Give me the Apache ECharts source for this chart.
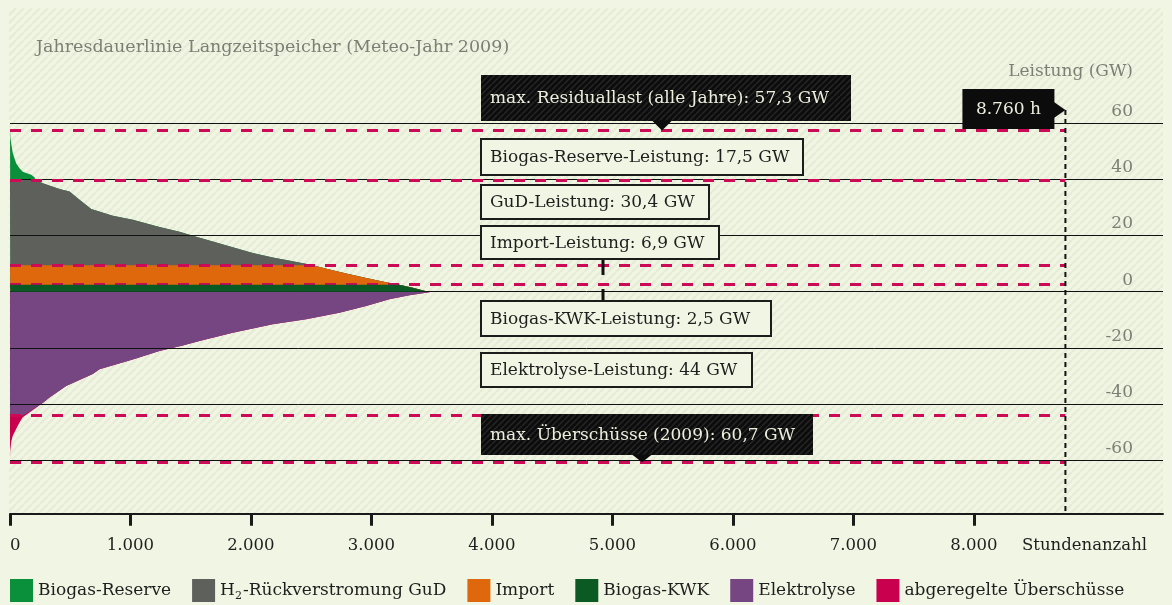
<!DOCTYPE html>
<html>
<head>
<meta charset="utf-8">
<script src="https://cdn.jsdelivr.net/npm/echarts@6/dist/echarts.min.js"></script>
<style>
  html, body { margin: 0; padding: 0; background: #f1f5e3; }
  #chart { width: 1172px; height: 605px; }
</style>
</head>
<body>
<div id="chart"></div>
<script>
// Jahresdauerlinie: positive Residuallast (Deckung) und negative Residuallast (Überschüsse), GW über Stunden
const residualHours = [0, 4, 12, 23, 37, 51, 79, 106, 134, 176, 203, 212, 272, 411, 494, 577, 674, 853, 1019, 1241, 1407, 1517, 1683, 1849, 2015, 2181, 2347, 2485, 2513, 2651, 2790, 2956, 3122, 3232, 3343, 3454, 3470];
const residualLoad  = [57.3, 54.6, 52.2, 49.3, 47.5, 45.7, 43.9, 42.7, 42.2, 41.6, 40.7, 39.8, 38.6, 36.5, 35.6, 32.7, 29.4, 27.0, 25.6, 23.0, 21.3, 19.9, 17.9, 15.8, 13.8, 12.2, 10.8, 9.7, 9.4, 7.9, 6.5, 4.9, 3.4, 2.5, 1.4, 0.2, 0];
const surplusHours  = [0, 1, 10, 23, 51, 79, 106, 272, 328, 466, 687, 743, 1019, 1241, 1434, 1573, 1849, 2181, 2458, 2734, 2956, 3149, 3315, 3454, 3500];
const surplusLoad   = [-60.7, -57.0, -53.5, -51.2, -48.8, -46.5, -44.7, -39.6, -37.6, -33.5, -29.3, -27.6, -24.1, -21.1, -19.1, -17.5, -14.6, -11.6, -9.8, -7.5, -5.1, -2.7, -1.3, -0.4, 0];

// Leistungen der Erzeuger / Verbraucher (GW)
const kwkCapacity = 2.5;
const importCapacity = 6.9;
const gudCapacity = 30.4;
const reserveCapacity = 17.5;
const electrolysisCapacity = 44;
const maxSurplus = 60.7;
const hoursPerYear = 8760;

const seriesNames = ['Biogas-Reserve', 'H2-Rückverstromung GuD', 'Import', 'Biogas-KWK', 'Elektrolyse', 'abgeregelte Überschüsse'];
const seriesColors = ['#0a8f3b', '#5e605b', '#df670c', '#0b5a24', '#764683', '#c9004e'];
const yTicks = [60, 40, 20, 0, -20, -40, -60];
const xTicks = [0, 1000, 2000, 3000, 4000, 5000, 6000, 7000, 8000];

// Kumulierte Obergrenzen der Bänder
const kwkTop = kwkCapacity;
const importTop = kwkTop + importCapacity;
const gudTop = importTop + gudCapacity;
const reserveTop = gudTop + reserveCapacity;

const FONT = '"DejaVu Serif", "Liberation Serif", serif';

function stripes(bg, fg, size, width) {
  const c = document.createElement('canvas');
  c.width = c.height = size;
  const g = c.getContext('2d');
  g.fillStyle = bg;
  g.fillRect(0, 0, size, size);
  g.strokeStyle = fg;
  g.lineWidth = width;
  g.beginPath();
  for (let k = -1; k <= 1; k++) {
    g.moveTo(k * size, size);
    g.lineTo(k * size + size, 0);
  }
  g.stroke();
  return c;
}
const lightHatch = stripes('#f1f5e3', '#e6ecd5', 8, 2.5);
const darkHatch = stripes('#0c0c0c', '#262626', 6, 1.5);

function capped(hours, values, limit) {
  return hours.map((h, i) => [h, Math.min(values[i], limit)]);
}
function floored(hours, values, limit) {
  return hours.map((h, i) => [h, Math.max(values[i], limit)]);
}

function area(name, color, data, z) {
  return {
    name, type: 'line', data, z,
    showSymbol: false, symbol: 'none', silent: true,
    lineStyle: { width: 0, color },
    itemStyle: { color },
    areaStyle: { color, opacity: 1, origin: 0 }
  };
}

const pink = '#cc0a55';
const dashedLevels = [reserveTop, gudTop, importTop, kwkTop, -electrolysisCapacity, -maxSurplus];

const chart = echarts.init(document.getElementById('chart'), null, { renderer: 'canvas' });

const option = {
  animation: false,
  backgroundColor: '#f1f5e3',
  textStyle: { fontFamily: FONT },
  title: {
    text: 'Jahresdauerlinie Langzeitspeicher (Meteo-Jahr 2009)',
    left: 36, top: 38, padding: 0,
    textStyle: { fontFamily: FONT, fontSize: 17.5, fontWeight: 'normal', color: '#7b8075' }
  },
  grid: { left: 10, right: 9, top: 66.8, bottom: 91.2, containLabel: false, outerBoundsMode: 'none' },
  xAxis: {
    type: 'value', min: 0, max: 9570, interval: 1000,
    name: 'Stundenanzahl', nameLocation: 'end', nameGap: -141,
    nameTextStyle: { fontFamily: FONT, fontSize: 16.5, color: '#1e1e1e', align: 'left', verticalAlign: 'top', padding: [23, 0, 0, 0] },
    axisLine: { show: true, onZero: false, lineStyle: { color: '#1a1a1a', width: 2 } },
    axisTick: { show: true, customValues: xTicks, length: 12, lineStyle: { color: '#1a1a1a', width: 3 } },
    axisLabel: {
      customValues: xTicks, margin: 23, alignMinLabel: 'left',
      fontFamily: FONT, fontSize: 16.5, color: '#1e1e1e',
      formatter: v => String(v).replace(/\B(?=(\d{3})+(?!\d))/g, '.')
    },
    splitLine: { show: false }
  },
  yAxis: {
    type: 'value', min: -79, max: 80, position: 'right',
    axisLine: { show: false, onZero: false },
    axisTick: { show: false },
    splitLine: { show: false },
    axisLabel: {
      customValues: yTicks, inside: true, margin: 30,
      fontFamily: FONT, fontSize: 17, color: '#7b8075',
      verticalAlign: 'bottom', padding: [0, 0, 3, 0]
    }
  },
  legend: {
    left: 10, top: 579, padding: 0, itemWidth: 23, itemHeight: 23, itemGap: 21, icon: 'rect',
    selectedMode: false,
    data: seriesNames,
    textStyle: {
      fontFamily: FONT, fontSize: 17, color: '#1e1e1e',
      rich: { sub: { fontFamily: FONT, fontSize: 11, color: '#1e1e1e', padding: [12, 1, 0, 0] } }
    },
    formatter: n => n === 'H2-Rückverstromung GuD' ? 'H{sub|2}-Rückverstromung GuD' : n
  },
  series: [
    {
      name: 'Raster', type: 'line', data: [], z: 1, silent: true,
      markLine: {
        silent: true, symbol: ['none', 'none'], label: { show: false }, animation: false,
        data: yTicks.map(v => ({ yAxis: v, lineStyle: { color: '#111', width: 1, type: 'solid' } }))
          .concat(dashedLevels.map(v => [
            { coord: [0, v], lineStyle: { color: pink, width: 3, type: [11, 10] } },
            { coord: [hoursPerYear, v] }
          ]))
      }
    },
    area(seriesNames[0], seriesColors[0], capped(residualHours, residualLoad, reserveTop), 2),
    area(seriesNames[1], seriesColors[1], capped(residualHours, residualLoad, gudTop), 3),
    area(seriesNames[2], seriesColors[2], capped(residualHours, residualLoad, importTop), 4),
    area(seriesNames[3], seriesColors[3], capped(residualHours, residualLoad, kwkTop), 5),
    area(seriesNames[5], seriesColors[5], floored(surplusHours, surplusLoad, -maxSurplus), 2),
    area(seriesNames[4], seriesColors[4], floored(surplusHours, surplusLoad, -electrolysisCapacity), 3)
  ]
};
chart.setOption(option);

// Annotationen: Kästen, Pfeile und Jahresende-Linie
const px = (x, y) => chart.convertToPixel({ gridIndex: 0 }, [x, y]);
const gridLeft = px(0, 0)[0];
const axisBottom = px(0, -79)[1];
const yearX = px(hoursPerYear, 0)[0];
const residualY = px(0, reserveTop)[1];
const surplusY = px(0, -maxSurplus)[1];
const hatchRight = px(9570, 0)[0];

const boxLeft = 481;
function lightBox(text, top, width, height) {
  return {
    type: 'group', z: 50, children: [
      { type: 'rect', shape: { x: boxLeft, y: top, width, height }, style: { fill: '#f1f5e3', stroke: '#1c1c1c', lineWidth: 2 }, z: 50 },
      { type: 'text', style: { x: boxLeft + 9, y: top + height / 2 + 1, text, fontFamily: FONT, fontSize: 17, fill: '#1e1e1e', verticalAlign: 'middle' }, z: 51 }
    ]
  };
}
function darkBox(text, top, width, height, tipX, tipY) {
  return {
    type: 'group', z: 50, children: [
      { type: 'rect', shape: { x: boxLeft, y: top, width, height }, style: { fill: { image: darkHatch, repeat: 'repeat' } }, z: 50 },
      { type: 'polygon', shape: { points: [[tipX - 10, top + height - 0.5], [tipX + 10, top + height - 0.5], [tipX, tipY]] }, style: { fill: '#0c0c0c' }, z: 50 },
      { type: 'text', style: { x: boxLeft + 9, y: top + height / 2 + 1, text, fontFamily: FONT, fontSize: 17, fill: '#ecefdc', verticalAlign: 'middle' }, z: 51 }
    ]
  };
}

const yearBoxTop = 89, yearBoxH = 40, yearBoxW = 92;
const yearBoxRight = yearX - 11;
const yearTipY = yearBoxTop + 21;

chart.setOption({
  graphic: [
    { type: 'rect', silent: true, z: -100, shape: { x: gridLeft - 1, y: 8, width: hatchRight - gridLeft + 1, height: axisBottom - 8 }, style: { fill: { image: lightHatch, repeat: 'repeat' } } },
    { type: 'text', z: 10, style: { x: 1133, y: 72, text: 'Leistung (GW)', fontFamily: FONT, fontSize: 17, fill: '#7b8075', align: 'right', verticalAlign: 'middle' } },
    darkBox('max. Residuallast (alle Jahre): 57,3 GW', 75, 370, 46, 662, residualY),
    lightBox('Biogas-Reserve-Leistung: 17,5 GW', 139, 322, 36),
    lightBox('GuD-Leistung: 30,4 GW', 185, 228, 34),
    lightBox('Import-Leistung: 6,9 GW', 226, 238, 33),
    { type: 'line', z: 49, shape: { x1: 603, y1: 259, x2: 603, y2: 275 }, style: { stroke: '#111', lineWidth: 3 } },
    { type: 'line', z: 49, shape: { x1: 603, y1: 289, x2: 603, y2: 301 }, style: { stroke: '#111', lineWidth: 3 } },
    lightBox('Biogas-KWK-Leistung: 2,5 GW', 301, 290, 35),
    lightBox('Elektrolyse-Leistung: 44 GW', 353, 271, 34),
    darkBox('max. Überschüsse (2009): 60,7 GW', 414, 332, 41, 642, surplusY),
    { type: 'line', z: 40, shape: { x1: yearX, y1: yearTipY, x2: yearX, y2: axisBottom }, style: { stroke: '#111', lineWidth: 2, lineDash: [5, 4] } },
    {
      type: 'group', z: 50, children: [
        { type: 'rect', shape: { x: yearBoxRight - yearBoxW, y: yearBoxTop, width: yearBoxW, height: yearBoxH }, style: { fill: '#0c0c0c' }, z: 50 },
        { type: 'polygon', shape: { points: [[yearBoxRight - 0.5, yearTipY - 8], [yearX, yearTipY], [yearBoxRight - 0.5, yearTipY + 8]] }, style: { fill: '#0c0c0c' }, z: 50 },
        { type: 'text', style: { x: yearBoxRight - yearBoxW / 2, y: yearBoxTop + yearBoxH / 2 + 1, text: '8.760 h', fontFamily: FONT, fontSize: 17, fill: '#ecefdc', align: 'center', verticalAlign: 'middle' }, z: 51 }
      ]
    }
  ]
});
</script>
</body>
</html>
